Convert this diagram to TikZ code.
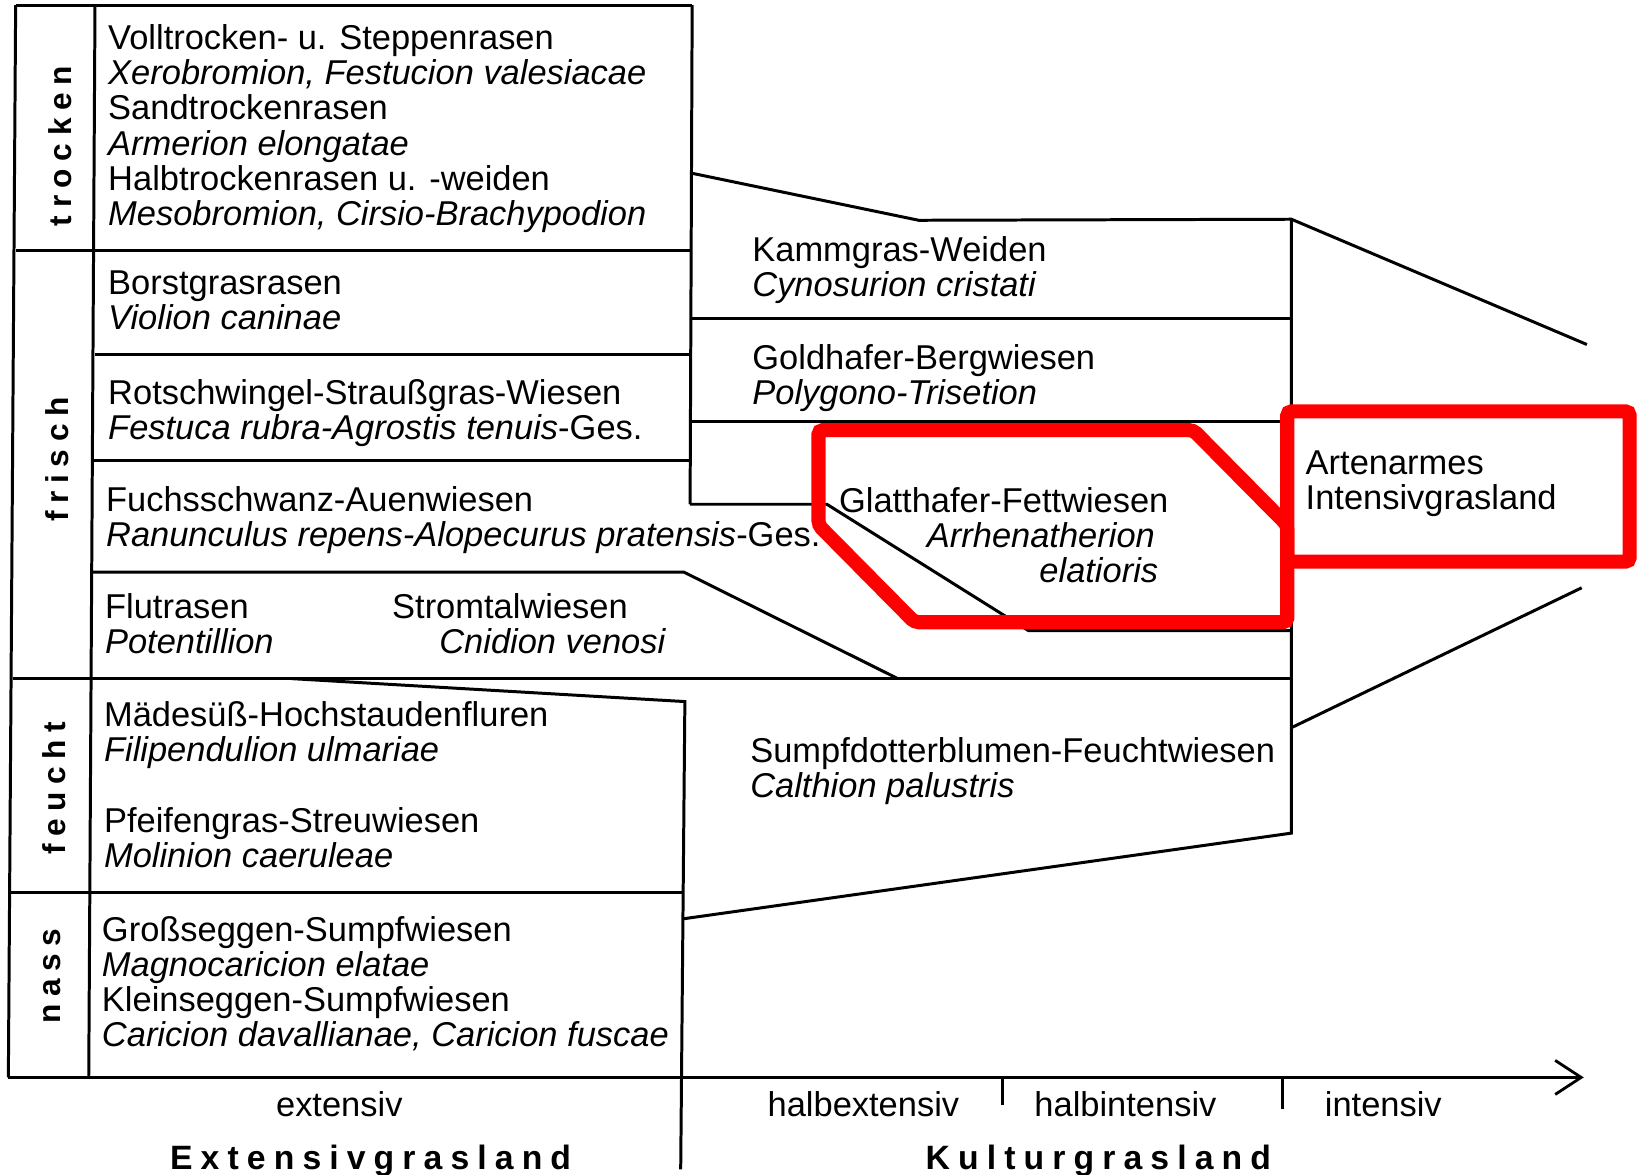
\documentclass[tikz,border=0pt]{standalone}
\usepackage{fontspec}
\setmainfont{Liberation Sans}
\newfontfamily\spacedfont{Liberation Sans}[LetterSpace=24]
\usetikzlibrary{arrows.meta}
\tikzset{
  bnd/.style={line width=0.85pt, draw=black, line join=miter},
  axisln/.style={line width=0.85pt, -{Straight Barb[length=2.6mm, width=3.4mm, line width=0.8pt]}},
  hilite/.style={draw=red, line width=4pt, rounded corners=1.2pt},
  blk/.style={anchor=north west, inner sep=0pt, align=left, font=\fontsize{9.8}{10}\selectfont},
  moist/.style={rotate=90, inner sep=0pt, font=\spacedfont\bfseries\fontsize{9}{9}\selectfont},
  scl/.style={anchor=base, inner sep=0pt, font=\fontsize{9.8}{10}\selectfont},
  grp/.style={anchor=base, inner sep=0pt, font=\spacedfont\bfseries\fontsize{9.6}{10}\selectfont},
}

\begin{document}
\begin{tikzpicture}[x=0.01044cm, y=-0.01044cm]
\useasboundingbox (0,0) rectangle (1568,1125);

% ================= left frame: moisture column + extensive grassland =================
\draw[bnd] (15,5) -- (663,5);
\draw[bnd] (15,5) -- (8,1032);
\draw[bnd] (91,5) -- (85,1032);
\draw[bnd] (663,5) -- (661,483);
\draw[bnd] (15,240) -- (663,240);
\draw[bnd] (91,340) -- (661,340);
\draw[bnd] (90,441) -- (661,441);
\draw[bnd] (89,548) -- (655,548) -- (860,650);
\draw[bnd] (12,650) -- (1237,650);
\draw[bnd] (279,650) -- (656,672) -- (652,1120);
\draw[bnd] (10,855) -- (655,855);

% ================= Kulturgrasland bands =================
\draw[bnd] (663,166) -- (880,211) -- (1237,210) -- (1520,330);
\draw[bnd] (663,305) -- (1237,305);
\draw[bnd] (661,404) -- (1237,404);
\draw[bnd] (661,483) -- (792,483) -- (985,604) -- (1237,604);
\draw[bnd] (1237,210) -- (1237,798) -- (655,880);
\draw[bnd] (1237,697) -- (1515,563);

% ================= intensity axis =================
\coordinate (ax0) at (8,1032);
\coordinate (ax1) at (1517,1032);
\coordinate (tk1) at (960,1032);
\coordinate (tk2) at (1228,1032);
\draw[axisln] (ax0) -- (ax1);
\draw[bnd] (tk1) -- ++(0,26);
\draw[bnd] (tk2) -- ++(0,30);

\node[scl] (sc1) at (325,1069) {extensiv};
\node[scl] (sc2) at (827,1069) {halbextensiv};
\node[scl] (sc3) at (1078,1069) {halbintensiv};
\node[scl] (sc4) at (1325,1069) {intensiv};

\node[grp] (gext) at (355,1120) {Extensivgrasland};
\node[grp] (gkul) at (1052,1120) {Kulturgrasland};

% ================= moisture labels =================
\node[moist] (trk) at (58,140) {trocken};
\node[moist] (frs) at (55,440) {frisch};
\node[moist] (fct) at (52,755) {feucht};
\node[moist] (nas) at (50,935) {nass};

% ================= extensive communities =================
\node[blk] (tro) at (103,23)
  {Volltrocken- u. Steppenrasen\\ \textit{Xerobromion, Festucion valesiacae}\\
   Sandtrockenrasen\\ \textit{Armerion elongatae}\\
   Halbtrockenrasen u. -weiden\\ \textit{Mesobromion, Cirsio-Brachypodion}};
\node[blk] (brs) at (103,259) {Borstgrasrasen\\ \textit{Violion caninae}};
\node[blk] (rot) at (103,363)
  {Rotschwingel-Straußgras-Wiesen\\ \textit{Festuca rubra-Agrostis tenuis}-Ges.};
\node[blk] (fuc) at (101,465)
  {Fuchsschwanz-Auenwiesen\\ \textit{Ranunculus repens-Alopecurus pratensis}-Ges.};
\node[blk] (flu) at (100,568) {Flutrasen\\ \textit{Potentillion}};
\node[blk] (str) at (375,568) {Stromtalwiesen\\ \hspace*{13.4pt}\textit{Cnidion venosi}};
\node[blk] (mad) at (99,671) {Mädesüß-Hochstaudenfluren\\ \textit{Filipendulion ulmariae}};
\node[blk] (pfe) at (99,773) {Pfeifengras-Streuwiesen\\ \textit{Molinion caeruleae}};
\node[blk] (grs) at (97,877)
  {Großseggen-Sumpfwiesen\\ \textit{Magnocaricion elatae}\\
   Kleinseggen-Sumpfwiesen\\ \textit{Caricion davallianae, Caricion fuscae}};

% ================= cultivated communities =================
\node[blk] (kam) at (720,226) {Kammgras-Weiden\\ \textit{Cynosurion cristati}};
\node[blk] (gol) at (720,329) {Goldhafer-Bergwiesen\\ \textit{Polygono-Trisetion}};
\node[blk] (gla) at (803,466)
  {Glatthafer-Fettwiesen\\ \hspace*{25pt}\textit{Arrhenatherion}\\ \hspace*{57pt}\textit{elatioris}};
\node[blk] (sum) at (718,706) {Sumpfdotterblumen-Feuchtwiesen\\ \textit{Calthion palustris}};
\node[blk] (art) at (1250,431) {Artenarmes\\ Intensivgrasland};

% ================= red highlights =================
\draw[hilite] (784,412) -- (1143,412) -- (1233,503) -- (1233,596) -- (876,596) -- (784,503) -- cycle;
\draw[hilite] (1233,394) rectangle (1561,538);

\end{tikzpicture}
\end{document}
